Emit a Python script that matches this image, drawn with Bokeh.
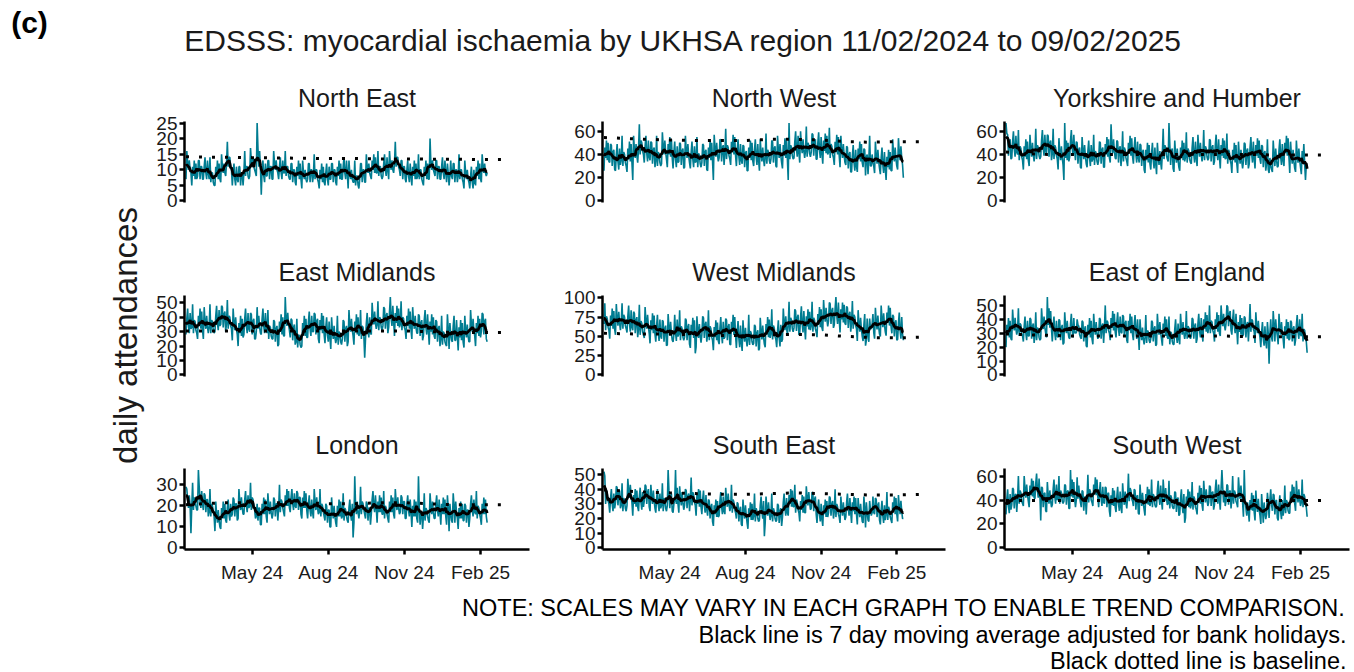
import pandas as pd
from datetime import datetime
from bokeh.plotting import figure
from bokeh.layouts import column, row
from bokeh.models import Range1d, FixedTicker, DatetimeTickFormatter, Label, ColumnDataSource
from bokeh.embed import file_html
from bokeh.resources import INLINE

# ---------------------------------------------------------------- data
FIRST_DAY = "2024-02-11"

regions = ["North East", "North West", "Yorkshire and Humber",
           "East Midlands", "West Midlands", "East of England",
           "London", "South East", "South West"]

# daily attendances, one group per week (Sunday..Saturday); the last value is 09/02/2025
north_east = [
    7, 16, 12, 10, 13, 10, 9,   5, 11, 8, 13, 7, 12, 7,   8, 13, 13, 7, 11, 11, 7,
    7, 11, 14, 9, 7, 13, 9,   7, 14, 6, 9, 9, 6, 5,   5, 11, 8, 13, 7, 12, 7,
    6, 15, 11, 9, 12, 9, 8,   12, 19, 11, 14, 14, 11, 10,   5, 9, 12, 7, 5, 11, 7,
    6, 11, 11, 5, 9, 9, 5,   9, 16, 8, 11, 11, 8, 7,   8, 17, 13, 11, 14, 11, 10,
    9, 8, 25, 17, 11, 16, 11,   2, 10, 13, 8, 6, 12, 8,   8, 13, 13, 7, 11, 11, 7,
    7, 16, 12, 10, 13, 10, 9,   7, 11, 14, 9, 7, 13, 9,   9, 16, 8, 11, 11, 8, 7,
    7, 12, 12, 6, 10, 10, 6,   5, 11, 8, 13, 7, 12, 7,   4, 13, 9, 7, 10, 7, 6,
    7, 12, 12, 6, 10, 10, 6,   8, 15, 7, 10, 10, 7, 6,   4, 10, 7, 12, 6, 11, 6,
    5, 9, 12, 7, 5, 11, 7,   7, 12, 12, 6, 10, 10, 6,   5, 11, 8, 13, 7, 12, 7,
    7, 11, 14, 9, 7, 13, 9,   4, 13, 9, 7, 10, 7, 6,   6, 13, 5, 8, 8, 5, 4,
    7, 12, 12, 6, 10, 10, 6,   6, 15, 11, 9, 12, 9, 8,   7, 13, 10, 15, 9, 14, 9,
    9, 16, 8, 11, 11, 8, 7,   8, 12, 15, 10, 8, 14, 10,   7, 16, 12, 10, 13, 10, 9,
    12, 19, 11, 14, 14, 11, 10,   8, 13, 13, 7, 11, 11, 7,   6, 10, 13, 8, 6, 12, 8,
    5, 11, 8, 13, 7, 12, 7,   8, 15, 7, 10, 10, 7, 6,   5, 11, 8, 13, 7, 12, 7,
    7, 20, 12, 10, 13, 10, 9,   8, 13, 13, 7, 11, 11, 7,   7, 11, 14, 9, 7, 13, 9,
    6, 12, 9, 5, 8, 13, 8,   7, 12, 12, 6, 10, 10, 6,   8, 15, 7, 10, 10, 7, 6,
    4, 13, 9, 7, 10, 7, 6,   4, 8, 11, 6, 4, 10, 6,   5, 11, 8, 13, 7, 12, 7,
    6, 15, 11, 9, 12, 9, 8,
    9]

north_west = [
    26, 46, 37, 52, 35, 50, 34,   33, 49, 48, 30, 42, 44, 27,   26, 40, 49, 34, 27, 45, 31,
    35, 56, 30, 42, 40, 33, 30,   25, 45, 36, 51, 34, 49, 33,   18, 56, 44, 37, 49, 39, 33,
    45, 66, 40, 52, 50, 43, 40,   33, 47, 56, 41, 34, 52, 38,   35, 51, 50, 32, 44, 46, 29,
    35, 56, 30, 42, 40, 33, 30,   32, 59, 47, 40, 52, 42, 36,   29, 49, 40, 55, 38, 53, 37,
    28, 42, 51, 36, 29, 47, 33,   34, 50, 49, 31, 43, 45, 28,   29, 56, 44, 37, 49, 39, 33,
    28, 42, 51, 36, 29, 47, 33,   34, 55, 29, 41, 39, 32, 29,   33, 49, 48, 30, 42, 44, 27,
    26, 46, 37, 52, 35, 50, 34,   18, 57, 45, 38, 50, 40, 34,   37, 53, 52, 34, 46, 48, 31,
    41, 62, 36, 48, 46, 39, 36,   31, 51, 42, 57, 40, 55, 39,   30, 44, 53, 38, 31, 49, 35,
    32, 48, 47, 29, 41, 43, 26,   26, 46, 37, 52, 35, 50, 34,   30, 44, 53, 38, 31, 49, 35,
    26, 53, 41, 34, 46, 36, 30,   37, 58, 32, 44, 42, 35, 32,   36, 52, 51, 33, 45, 47, 30,
    29, 56, 44, 37, 49, 39, 33,   28, 48, 39, 54, 37, 52, 36,   18, 67, 36, 48, 46, 39, 36,
    37, 51, 60, 45, 38, 56, 42,   33, 60, 48, 41, 53, 43, 37,   43, 64, 38, 50, 48, 41, 38,
    42, 58, 57, 39, 51, 53, 36,   36, 50, 59, 44, 37, 55, 41,   32, 52, 43, 58, 41, 56, 40,
    42, 63, 37, 49, 47, 40, 37,   31, 51, 42, 57, 40, 55, 39,   29, 56, 44, 37, 49, 39, 33,
    31, 47, 46, 28, 40, 42, 25,   25, 39, 48, 33, 26, 44, 30,   25, 45, 36, 51, 34, 49, 33,
    29, 45, 44, 22, 38, 40, 23,   35, 56, 30, 30, 40, 33, 30,   24, 51, 39, 32, 44, 34, 28,
    23, 37, 46, 31, 24, 42, 28,   18, 38, 29, 44, 27, 42, 26,   26, 53, 41, 34, 46, 36, 30,
    27, 54, 42, 35, 47, 37, 31,
    20]

yorkshire_humber = [
    67, 58, 57, 39, 51, 53, 36,   37, 51, 60, 45, 38, 56, 42,   40, 61, 35, 47, 45, 38, 35,
    27, 47, 38, 53, 36, 51, 35,   30, 57, 45, 38, 50, 40, 34,   41, 62, 36, 48, 46, 39, 36,
    38, 52, 61, 46, 39, 57, 43,   41, 57, 56, 38, 50, 52, 35,   41, 62, 36, 48, 46, 39, 36,
    27, 54, 42, 35, 47, 37, 31,   18, 67, 37, 52, 35, 50, 34,   38, 52, 61, 46, 39, 57, 43,
    35, 51, 50, 32, 44, 46, 29,   28, 55, 43, 36, 48, 38, 32,   29, 43, 52, 37, 30, 48, 34,
    36, 57, 31, 43, 41, 34, 31,   35, 51, 50, 32, 44, 46, 29,   29, 49, 40, 55, 38, 53, 37,
    33, 66, 48, 41, 53, 43, 37,   36, 52, 51, 33, 45, 47, 30,   39, 60, 34, 46, 44, 37, 34,
    30, 50, 41, 56, 39, 54, 38,   32, 46, 55, 40, 33, 51, 37,   33, 49, 48, 30, 42, 44, 27,
    24, 44, 35, 50, 33, 48, 32,   27, 41, 50, 35, 28, 46, 32,   23, 50, 38, 31, 43, 33, 27,
    41, 62, 36, 48, 46, 39, 36,   34, 67, 49, 31, 43, 45, 28,   25, 52, 40, 33, 45, 35, 29,
    26, 46, 37, 52, 35, 50, 34,   38, 59, 33, 45, 43, 36, 33,   32, 46, 55, 40, 33, 51, 37,
    30, 57, 45, 38, 50, 40, 34,   40, 61, 35, 47, 45, 38, 35,   37, 53, 52, 34, 46, 48, 31,
    34, 48, 57, 42, 35, 53, 39,   28, 48, 39, 54, 37, 52, 36,   37, 58, 32, 44, 42, 35, 32,
    24, 44, 35, 50, 33, 48, 32,   24, 51, 39, 32, 44, 34, 28,   34, 50, 49, 31, 43, 45, 28,
    32, 46, 55, 40, 33, 51, 37,   28, 48, 39, 54, 37, 52, 36,   32, 48, 47, 29, 41, 43, 26,
    32, 53, 27, 24, 37, 30, 27,   25, 52, 40, 30, 45, 35, 29,   30, 44, 53, 38, 31, 49, 35,
    30, 50, 41, 56, 39, 54, 38,   24, 51, 39, 32, 44, 34, 28,   25, 52, 40, 33, 45, 35, 29,
    23, 43, 34, 49, 32, 18, 31,
    30]

east_midlands = [
    28, 39, 46, 34, 29, 43, 32,   33, 49, 29, 38, 37, 31, 29,   25, 41, 34, 46, 32, 44, 31,
    25, 47, 37, 32, 41, 33, 29,   33, 49, 29, 38, 37, 31, 29,   30, 41, 48, 36, 31, 45, 34,
    35, 48, 47, 33, 42, 44, 30,   36, 52, 32, 41, 40, 34, 32,   24, 46, 36, 31, 40, 32, 28,
    20, 36, 29, 41, 27, 39, 26,   28, 39, 46, 34, 29, 43, 32,   30, 43, 42, 28, 37, 39, 25,
    25, 30, 47, 32, 41, 33, 29,   28, 39, 46, 34, 29, 43, 32,   29, 45, 25, 34, 33, 27, 25,
    25, 38, 37, 23, 32, 34, 20,   21, 37, 30, 42, 28, 40, 27,   27, 54, 39, 34, 43, 35, 31,
    26, 39, 38, 24, 33, 35, 21,   23, 39, 19, 28, 27, 21, 19,   20, 36, 29, 41, 27, 39, 26,
    26, 37, 44, 32, 27, 41, 30,   30, 43, 42, 28, 37, 39, 25,   22, 38, 31, 43, 29, 41, 28,
    22, 33, 40, 28, 23, 37, 26,   18, 40, 30, 25, 34, 26, 22,   25, 41, 21, 30, 29, 23, 21,
    25, 38, 37, 23, 32, 34, 20,   23, 45, 35, 30, 39, 31, 27,   21, 37, 30, 42, 28, 40, 27,
    29, 45, 25, 34, 33, 27, 12,   25, 36, 43, 31, 26, 40, 29,   28, 50, 40, 35, 44, 36, 32,
    35, 51, 31, 40, 39, 33, 31,   34, 47, 46, 32, 41, 43, 29,   33, 44, 54, 39, 34, 48, 37,
    27, 43, 36, 48, 34, 46, 33,   35, 51, 31, 40, 39, 33, 31,   25, 41, 34, 46, 32, 44, 31,
    25, 47, 37, 32, 41, 33, 29,   29, 42, 41, 27, 36, 38, 24,   27, 38, 45, 33, 28, 42, 31,
    21, 37, 30, 42, 28, 40, 27,   25, 38, 37, 23, 32, 34, 20,   25, 41, 21, 30, 29, 23, 21,
    20, 42, 32, 18, 36, 28, 24,   23, 34, 41, 24, 24, 38, 27,   17, 33, 26, 38, 24, 36, 23,
    19, 41, 31, 26, 35, 27, 23,   23, 45, 35, 30, 39, 31, 27,   20, 36, 29, 41, 27, 39, 26,
    30, 43, 42, 28, 37, 39, 25,
    23]

west_midlands = [
    66, 93, 58, 76, 73, 62, 58,   47, 77, 64, 86, 60, 83, 59,   52, 92, 74, 64, 82, 67, 58,
    68, 93, 60, 78, 75, 64, 60,   55, 76, 90, 67, 56, 84, 62,   58, 82, 80, 54, 71, 75, 49,
    60, 91, 52, 70, 67, 56, 52,   48, 88, 70, 60, 78, 63, 54,   41, 71, 58, 80, 54, 77, 53,
    43, 64, 78, 55, 44, 72, 50,   47, 71, 69, 43, 60, 64, 38,   39, 79, 61, 51, 69, 54, 45,
    43, 52, 78, 55, 44, 72, 50,   53, 84, 45, 63, 60, 49, 45,   49, 73, 71, 45, 62, 66, 40,
    35, 65, 52, 74, 48, 71, 28,   36, 76, 58, 48, 66, 51, 42,   52, 76, 74, 48, 65, 69, 43,
    53, 84, 45, 63, 60, 49, 45,   32, 62, 49, 71, 45, 68, 44,   40, 61, 75, 52, 41, 69, 47,
    49, 73, 71, 45, 62, 66, 40,   39, 69, 56, 78, 52, 75, 51,   35, 56, 70, 47, 36, 64, 42,
    31, 71, 53, 43, 61, 46, 37,   47, 78, 39, 57, 54, 43, 39,   41, 65, 63, 37, 54, 58, 32,
    34, 74, 56, 46, 64, 49, 40,   36, 66, 53, 75, 49, 72, 48,   54, 85, 46, 64, 61, 50, 46,
    36, 57, 71, 48, 37, 65, 43,   46, 86, 68, 58, 76, 61, 52,   64, 95, 56, 74, 71, 60, 56,
    61, 85, 83, 57, 74, 78, 52,   54, 75, 89, 66, 55, 83, 61,   46, 76, 63, 85, 59, 82, 58,
    64, 95, 56, 74, 71, 60, 56,   49, 79, 66, 88, 62, 85, 61,   57, 97, 79, 69, 87, 72, 63,
    70, 94, 92, 66, 83, 87, 61,   65, 86, 101, 77, 66, 94, 72,   55, 85, 72, 94, 68, 91, 67,
    65, 89, 87, 61, 78, 82, 56,   68, 96, 60, 78, 75, 64, 60,   44, 84, 66, 56, 74, 59, 50,
    44, 65, 79, 38, 45, 73, 51,   43, 73, 60, 60, 66, 79, 55,   47, 87, 69, 59, 77, 62, 53,
    50, 90, 72, 62, 80, 65, 56,   51, 81, 68, 90, 64, 87, 63,   54, 78, 76, 50, 67, 71, 45,
    46, 67, 81, 58, 47, 75, 53,
    45]

east_of_england = [
    20, 36, 29, 41, 27, 39, 26,   25, 47, 37, 32, 41, 33, 29,   32, 48, 28, 37, 36, 30, 28,
    24, 35, 42, 30, 25, 39, 28,   28, 41, 40, 26, 35, 37, 23,   29, 45, 25, 34, 33, 27, 25,
    26, 48, 38, 33, 42, 34, 30,   27, 56, 36, 48, 34, 46, 33,   24, 35, 42, 30, 25, 39, 28,
    27, 40, 39, 25, 34, 36, 22,   23, 45, 35, 30, 39, 31, 27,   26, 37, 44, 32, 27, 41, 30,
    31, 30, 40, 36, 35, 29, 27,   26, 39, 38, 24, 33, 35, 21,   20, 36, 29, 41, 27, 39, 26,
    22, 44, 34, 29, 38, 30, 26,   28, 41, 40, 26, 35, 37, 23,   34, 50, 30, 39, 38, 32, 30,
    25, 41, 34, 46, 32, 44, 31,   27, 38, 45, 33, 28, 42, 31,   30, 43, 42, 28, 37, 39, 25,
    23, 39, 32, 44, 30, 42, 29,   25, 36, 43, 31, 26, 40, 29,   18, 40, 30, 25, 34, 26, 22,
    27, 43, 23, 32, 31, 25, 23,   26, 39, 38, 24, 33, 35, 21,   22, 44, 34, 29, 38, 30, 26,
    21, 37, 30, 42, 28, 40, 27,   26, 42, 22, 31, 30, 24, 22,   22, 33, 40, 28, 23, 37, 26,
    22, 44, 34, 29, 38, 30, 26,   30, 46, 26, 35, 34, 28, 26,   28, 41, 40, 26, 35, 37, 23,
    26, 37, 44, 32, 27, 41, 30,   24, 40, 33, 45, 31, 43, 30,   34, 50, 30, 39, 38, 32, 30,
    24, 40, 33, 45, 31, 43, 30,   28, 50, 40, 35, 44, 36, 32,   37, 50, 49, 35, 44, 46, 32,
    29, 40, 47, 35, 30, 44, 33,   22, 38, 31, 43, 29, 41, 28,   29, 42, 41, 27, 36, 38, 24,
    35, 51, 31, 40, 39, 33, 31,   23, 45, 35, 30, 39, 31, 27,   20, 31, 38, 26, 21, 35, 24,
    19, 38, 30, 8, 30, 40, 27,   24, 46, 36, 24, 40, 32, 28,   22, 44, 34, 29, 38, 30, 26,
    19, 35, 28, 40, 26, 38, 25,   26, 39, 38, 24, 33, 35, 21,   25, 36, 43, 31, 26, 40, 29,
    28, 44, 24, 33, 32, 26, 24,
    16]

london = [
    29, 28, 23, 19, 25, 20, 7,   20, 31, 18, 24, 23, 20, 18,   18, 37, 29, 22, 19, 27, 21,
    18, 26, 25, 17, 23, 23, 15,   17, 28, 15, 21, 20, 17, 15,   8, 22, 16, 12, 18, 13, 10,
    9, 19, 14, 22, 14, 21, 13,   12, 19, 23, 16, 13, 21, 15,   16, 24, 23, 15, 21, 21, 13,
    14, 28, 22, 18, 24, 19, 16,   16, 23, 27, 20, 17, 25, 19,   20, 31, 18, 24, 23, 20, 18,
    14, 15, 21, 13, 19, 19, 11,   11, 21, 16, 24, 16, 23, 15,   12, 26, 20, 16, 22, 17, 14,
    16, 24, 23, 15, 21, 21, 13,   19, 30, 17, 23, 22, 19, 17,   15, 25, 20, 28, 20, 27, 19,
    17, 24, 28, 21, 18, 26, 20,   19, 27, 26, 18, 24, 24, 16,   14, 24, 19, 27, 19, 26, 18,
    14, 21, 25, 18, 15, 23, 17,   14, 28, 22, 18, 24, 19, 16,   17, 28, 15, 21, 20, 17, 15,
    13, 21, 20, 12, 18, 18, 10,   10, 24, 18, 14, 20, 15, 12,   10, 20, 15, 23, 15, 22, 14,
    15, 26, 13, 19, 18, 15, 13,   12, 19, 23, 16, 13, 21, 5,   12, 34, 20, 16, 22, 17, 14,
    18, 29, 16, 22, 21, 18, 16,   14, 22, 21, 13, 19, 19, 11,   16, 23, 27, 20, 17, 25, 19,
    12, 22, 17, 25, 17, 24, 16,   16, 27, 14, 20, 19, 16, 14,   12, 22, 17, 25, 17, 24, 16,
    14, 28, 22, 18, 24, 19, 16,   17, 25, 24, 16, 22, 22, 14,   14, 21, 25, 18, 15, 23, 17,
    10, 20, 15, 23, 15, 22, 14,   12, 34, 19, 11, 17, 17, 9,   15, 26, 13, 19, 18, 15, 13,
    12, 26, 20, 16, 22, 17, 14,   14, 21, 25, 18, 15, 23, 17,   11, 21, 16, 24, 16, 23, 15,
    11, 25, 19, 8, 21, 16, 13,   12, 26, 20, 12, 22, 17, 14,   9, 19, 14, 22, 14, 21, 13,
    13, 21, 20, 12, 18, 18, 10,   14, 21, 25, 18, 15, 23, 17,   16, 27, 14, 20, 19, 16, 14,
    11, 21, 16, 24, 16, 23, 15,
    12]

south_east = [
    52, 49, 30, 39, 37, 32, 30,   24, 34, 40, 30, 25, 37, 27,   31, 42, 41, 29, 37, 39, 27,
    29, 44, 25, 34, 32, 27, 25,   29, 47, 39, 34, 43, 36, 31,   22, 36, 30, 40, 28, 39, 28,
    25, 35, 41, 31, 26, 38, 28,   32, 43, 42, 30, 38, 40, 28,   25, 43, 35, 30, 39, 32, 27,
    24, 34, 40, 30, 25, 37, 27,   29, 44, 25, 34, 32, 27, 25,   29, 53, 39, 27, 35, 37, 25,
    24, 30, 32, 53, 30, 41, 30,   24, 42, 34, 29, 38, 31, 26,   29, 40, 39, 27, 35, 37, 25,
    33, 48, 29, 38, 36, 31, 29,   22, 36, 30, 40, 28, 39, 28,   23, 33, 39, 29, 24, 36, 26,
    22, 33, 32, 20, 28, 30, 18,   15, 29, 23, 33, 21, 32, 21,   22, 32, 38, 28, 23, 35, 25,
    23, 41, 33, 28, 37, 30, 25,   28, 43, 24, 33, 31, 26, 24,   20, 31, 30, 18, 26, 28, 16,
    15, 33, 25, 20, 29, 22, 17,   13, 27, 21, 31, 19, 30, 19,   22, 37, 18, 27, 25, 20, 18,
    19, 29, 35, 25, 20, 32, 8,   17, 35, 27, 22, 31, 24, 19,   22, 37, 18, 27, 25, 20, 18,
    19, 30, 29, 17, 25, 27, 15,   21, 31, 37, 27, 22, 34, 24,   22, 36, 30, 40, 28, 39, 28,
    28, 43, 24, 33, 31, 26, 24,   18, 32, 26, 36, 24, 35, 24,   24, 42, 34, 29, 38, 31, 26,
    27, 38, 37, 25, 33, 35, 23,   17, 27, 33, 23, 18, 30, 20,   15, 29, 23, 33, 21, 32, 21,
    24, 35, 34, 22, 30, 32, 20,   25, 40, 21, 30, 28, 23, 21,   17, 35, 27, 22, 31, 24, 19,
    21, 31, 37, 27, 22, 34, 24,   17, 31, 25, 35, 23, 34, 23,   16, 34, 26, 21, 30, 23, 18,
    17, 35, 27, 14, 31, 24, 19,   18, 32, 26, 22, 24, 35, 24,   23, 34, 33, 21, 29, 31, 19,
    16, 26, 32, 22, 17, 29, 19,   23, 38, 19, 28, 26, 21, 19,   17, 31, 25, 35, 23, 34, 23,
    18, 36, 28, 23, 32, 25, 20,
    20]

south_west = [
    28, 41, 49, 35, 29, 45, 32,   36, 50, 49, 33, 44, 45, 30,   41, 60, 37, 48, 46, 39, 37,
    35, 60, 49, 42, 53, 44, 39,   34, 52, 44, 58, 43, 56, 42,   41, 54, 62, 48, 42, 58, 45,
    23, 51, 50, 34, 45, 46, 31,   30, 55, 44, 37, 48, 39, 34,   36, 49, 57, 43, 37, 53, 40,
    41, 60, 37, 48, 46, 39, 37,   39, 53, 52, 36, 47, 48, 33,   33, 65, 43, 57, 42, 55, 41,
    34, 40, 59, 41, 52, 43, 38,   34, 48, 47, 31, 42, 43, 28,   42, 61, 38, 49, 47, 40, 38,
    35, 53, 45, 59, 44, 57, 43,   34, 47, 55, 41, 35, 51, 38,   37, 51, 50, 34, 45, 46, 31,
    26, 44, 36, 50, 35, 48, 34,   30, 43, 51, 37, 31, 47, 34,   29, 54, 43, 36, 47, 38, 33,
    43, 62, 39, 50, 48, 41, 39,   35, 49, 48, 32, 43, 44, 29,   28, 53, 42, 35, 46, 37, 32,
    27, 45, 37, 51, 36, 49, 35,   38, 57, 34, 45, 43, 36, 34,   35, 48, 56, 42, 36, 52, 39,
    32, 57, 46, 39, 50, 41, 36,   37, 56, 33, 44, 42, 35, 33,   33, 47, 46, 30, 41, 42, 27,
    28, 41, 49, 35, 29, 45, 21,   25, 43, 35, 49, 34, 47, 33,   36, 55, 32, 43, 41, 34, 32,
    28, 46, 38, 52, 37, 50, 36,   31, 56, 45, 38, 49, 40, 35,   38, 52, 51, 35, 46, 47, 32,
    36, 49, 57, 43, 37, 53, 40,   32, 50, 65, 50, 38, 48, 35,   39, 53, 52, 36, 47, 48, 33,
    41, 60, 37, 48, 46, 39, 37,   34, 59, 48, 41, 52, 43, 38,   26, 65, 40, 33, 27, 38, 30,
    22, 40, 32, 46, 31, 44, 30,   23, 48, 37, 30, 41, 32, 27,   20, 45, 34, 21, 38, 29, 24,
    28, 46, 38, 25, 40, 49, 36,   31, 45, 44, 28, 39, 40, 25,   23, 36, 44, 30, 24, 40, 27,
    33, 52, 29, 40, 38, 31, 29,   29, 47, 39, 53, 38, 51, 37,   31, 56, 45, 38, 49, 40, 35,
    38, 57, 34, 45, 43, 36, 34,
    26]

# baseline, read at the start of each month (it runs on to early March 2025)
baseline_dates = ["2024-02-11", "2024-03-01", "2024-04-01", "2024-05-01", "2024-06-01",
                  "2024-07-01", "2024-08-01", "2024-09-01", "2024-10-01", "2024-11-01",
                  "2024-12-01", "2025-01-01", "2025-02-01", "2025-03-03"]
baseline_north_east = [14.2, 14.1, 14.0, 13.9, 13.8, 13.7, 13.6, 13.6, 13.5, 13.5, 13.4, 13.4, 13.3, 13.3]
baseline_north_west = [54.5, 54, 53, 52.5, 52, 52, 52, 53, 53, 52.5, 51, 50.5, 51, 51]
baseline_yorkshire_humber = [42, 41, 40, 40, 40, 40, 40, 40, 40, 40, 40, 39.5, 39.5, 39.5]
baseline_east_midlands = [30.5, 30.5, 30.5, 30.5, 30.5, 30.5, 30.5, 30.5, 30.5, 30.5, 30, 29.5, 29.5, 29.5]
baseline_west_midlands = [54, 53.5, 53, 53, 52, 51, 51, 52, 52.5, 52, 50, 48.5, 48, 49]
baseline_east_of_england = [29.5, 29, 28.5, 28, 28, 28, 28, 28, 28, 28, 27.5, 27.5, 27.5, 27.5]
baseline_london = [20.5, 21, 21.5, 21.5, 21.5, 21.5, 21, 21, 21.5, 21.5, 21, 20.5, 20.5, 20.5]
baseline_south_east = [39.5, 39, 38, 37.5, 37, 36.5, 36.5, 37, 37.5, 37, 36.5, 36, 36, 36.5]
baseline_south_west = [39.5, 39.5, 39.5, 39.5, 39.5, 39.5, 39.5, 39.5, 39.5, 39.5, 39.5, 39.5, 39.5, 39.5]

y_ticks = [
    [0, 5, 10, 15, 20, 25], [0, 20, 40, 60], [0, 20, 40, 60],
    [0, 10, 20, 30, 40, 50], [0, 25, 50, 75, 100], [0, 10, 20, 30, 40, 50],
    [0, 10, 20, 30], [0, 10, 20, 30, 40, 50], [0, 20, 40, 60],
]
x_tick_dates = ["2024-05-01", "2024-08-01", "2024-11-01", "2025-02-01"]

series = [north_east, north_west, yorkshire_humber, east_midlands, west_midlands,
          east_of_england, london, south_east, south_west]
baselines = [baseline_north_east, baseline_north_west, baseline_yorkshire_humber,
             baseline_east_midlands, baseline_west_midlands, baseline_east_of_england,
             baseline_london, baseline_south_east, baseline_south_west]

# ---------------------------------------------------------------- styling
FONT = "Liberation Sans"
TEAL = "#007C91"
INK = "#1A1A1A"

YLAB_W = 150
COL_W = [410, 410, 384]
COL_LEFT = [34, 40, 34]
COL_RIGHT = [31, 25, 5]
ROW_H = 174

x_range = Range1d(start=datetime(2024, 2, 9, 5), end=datetime(2025, 4, 1, 5))


def ms(d):
    return pd.Timestamp(d).value // 10**6


def panel(i):
    r, c = divmod(i, 3)
    bottom_row = r == 2
    counts = series[i]
    dates = pd.date_range(FIRST_DAY, periods=len(counts), freq="D")
    avg = pd.Series(counts, dtype=float).rolling(7, center=True, min_periods=4).mean()
    peak = max(counts)

    p = figure(width=COL_W[c], height=ROW_H, x_range=x_range,
               y_range=Range1d(-0.02 * peak, 1.02 * peak),
               x_axis_type="datetime",
               x_axis_location="below" if bottom_row else None,
               toolbar_location=None, output_backend="svg",
               min_border_left=COL_LEFT[c], min_border_right=COL_RIGHT[c],
               min_border_top=50 if bottom_row else 51,
               min_border_bottom=43 if bottom_row else 42)
    p.outline_line_color = None
    p.grid.visible = False
    p.background_fill_color = "white"
    p.border_fill_color = "white"

    p.title.text = regions[i]
    p.title.align = "center"
    p.title.text_font = FONT
    p.title.text_font_size = "25px"
    p.title.text_font_style = "normal"
    p.title.text_color = INK
    p.title.standoff = 20

    src = ColumnDataSource(dict(date=dates, n=counts, avg=avg))
    p.line("date", "n", source=src, line_color=TEAL, line_width=1.6)
    p.line("date", "avg", source=src, line_color="black", line_width=2.8)
    p.line(x=pd.to_datetime(baseline_dates), y=baselines[i], line_color="black",
           line_width=3, line_dash="3 10", line_cap="butt")

    axes = [p.yaxis[0]] + ([p.xaxis[0]] if bottom_row else [])
    for ax in axes:
        ax.axis_line_width = 2.5
        ax.axis_line_color = "black"
        ax.major_tick_line_width = 2.5
        ax.major_tick_line_color = "black"
        ax.major_tick_in = 0
        ax.major_tick_out = 5
        ax.minor_tick_line_color = None
        ax.major_label_text_font = FONT
        ax.major_label_text_font_size = "19px"
        ax.major_label_text_color = INK
    p.yaxis.ticker = FixedTicker(ticks=y_ticks[i])
    p.yaxis.major_label_standoff = 2
    if bottom_row:
        p.xaxis.ticker = FixedTicker(ticks=[ms(d) for d in x_tick_dates])
        p.xaxis.formatter = DatetimeTickFormatter(days="%b %y", months="%b %y", years="%b %y")
        p.xaxis.major_label_standoff = 7
    return p


def blank(w, h):
    f = figure(width=w, height=h, x_range=Range1d(0, w), y_range=Range1d(0, h),
               x_axis_location=None, y_axis_location=None, toolbar_location=None,
               output_backend="svg", min_border=0)
    f.outline_line_color = None
    f.grid.visible = False
    return f


panels = [panel(i) for i in range(9)]

header = blank(1354, 70)
header.add_layout(Label(x=29, y=48, text="(c)", text_font=FONT, text_font_size="30px",
                        text_font_style="bold", text_color="black",
                        text_align="center", text_baseline="middle"))
header.add_layout(Label(x=683, y=30,
                        text="EDSSS: myocardial ischaemia by UKHSA region 11/02/2024 to 09/02/2025",
                        text_font=FONT, text_font_size="30px", text_color=INK,
                        text_align="center", text_baseline="middle"))

ylab = blank(YLAB_W, 3 * ROW_H)
ylab.add_layout(Label(x=125, y=257, text="daily attendances", angle=90, angle_units="deg",
                      text_font=FONT, text_font_size="33px", text_color=INK,
                      text_align="center", text_baseline="middle"))

footer = blank(1354, 80)
notes = ["NOTE: SCALES MAY VARY IN EACH GRAPH TO ENABLE TREND COMPARISON.",
         "Black line is 7 day moving average adjusted for bank holidays.",
         "Black dotted line is baseline."]
for txt, yy in zip(notes, [65, 38, 12]):
    footer.add_layout(Label(x=1346, y=yy, text=txt, text_font=FONT, text_font_size="23.5px",
                            text_color="black", text_align="right", text_baseline="middle"))

grid = row(ylab,
           column(panels[0], panels[3], panels[6]),
           column(panels[1], panels[4], panels[7]),
           column(panels[2], panels[5], panels[8]))
page = column(header, grid, footer)

open("out.html", "w").write(file_html(page, INLINE, title="EDSSS myocardial ischaemia"))
